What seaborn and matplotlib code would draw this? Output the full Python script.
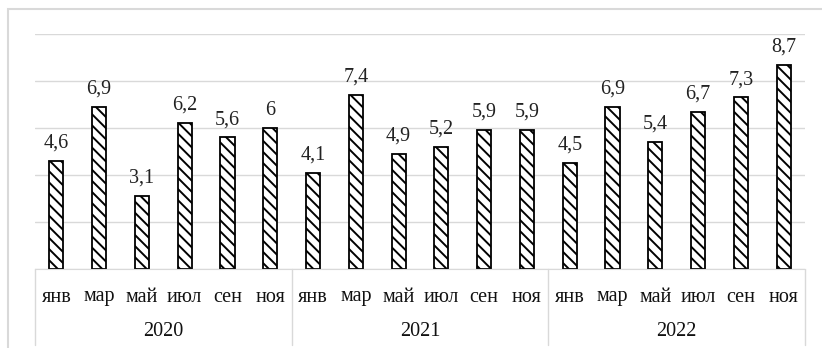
import pandas as pd
import seaborn as sns
import matplotlib.pyplot as plt
from matplotlib.patches import Rectangle
from matplotlib.transforms import blended_transform_factory

# data
years = ['2020', '2021', '2022']
months = ['янв', 'мар', 'май', 'июл', 'сен', 'ноя']
values_2020 = [4.6, 6.9, 3.1, 6.2, 5.6, 6.0]
values_2021 = [4.1, 7.4, 4.9, 5.2, 5.9, 5.9]
values_2022 = [4.5, 6.9, 5.4, 6.7, 7.3, 8.7]

rows = []
for year, vals in zip(years, [values_2020, values_2021, values_2022]):
    for m, v in zip(months, vals):
        rows.append({'key': year + '-' + m, 'year': year, 'month': m, 'value': v})
df = pd.DataFrame(rows)

sns.set_style('white')
plt.rcParams['font.family'] = ['Liberation Serif', 'DejaVu Serif']
plt.rcParams['hatch.linewidth'] = 1.4

fig = plt.figure(figsize=(8.22, 3.48), dpi=100)
ax = fig.add_axes([35 / 822, 1 - 269 / 348, 770 / 822, 235 / 348])

# outer chart border
fig.patches.append(Rectangle((8 / 822, -0.1), 1.0, 1 - 9 / 348 + 0.1, transform=fig.transFigure,
                             fill=False, edgecolor='#d9d9d9', linewidth=1.5))

sns.barplot(data=df, x='key', y='value', order=df['key'], color='white',
            width=0.33, edgecolor='black', linewidth=1.3, ax=ax)
for bar in ax.patches:
    bar.set_hatch('\\\\\\')

ax.set_ylim(0, 10)
ax.set_xlim(-0.5, len(df) - 0.5)
ax.set_yticks([0, 2, 4, 6, 8, 10])
ax.yaxis.grid(True, color='#d9d9d9', linewidth=1)
ax.set_axisbelow(True)
ax.set_yticklabels([])
ax.set_xticks([])
ax.set_xlabel('')
ax.set_ylabel('')
for s in ['top', 'right', 'left']:
    ax.spines[s].set_visible(False)
ax.spines['bottom'].set_color('#d9d9d9')
ax.tick_params(length=0)

labels = [('%g' % v).replace('.', ',') for v in df['value']]
ax.bar_label(ax.containers[0], labels=labels, padding=6, fontsize=14.5, color='#222222')

# two-level category axis
tr = blended_transform_factory(ax.transData, ax.transAxes)
for i, m in enumerate(df['month']):
    ax.text(i, -28 / 235, m, transform=tr, ha='center', va='center', fontsize=14.5, color='#111111')
for j, year in enumerate(years):
    ax.text(j * 6 + 2.5, -62 / 235, year, transform=tr, ha='center', va='center', fontsize=14.5,
            color='#111111')
for b in [-0.5, 5.5, 11.5, 17.5]:
    ax.plot([b, b], [0, -76 / 235], transform=tr, color='#d9d9d9', linewidth=1, clip_on=False)

fig.savefig('out.png', dpi=100)
